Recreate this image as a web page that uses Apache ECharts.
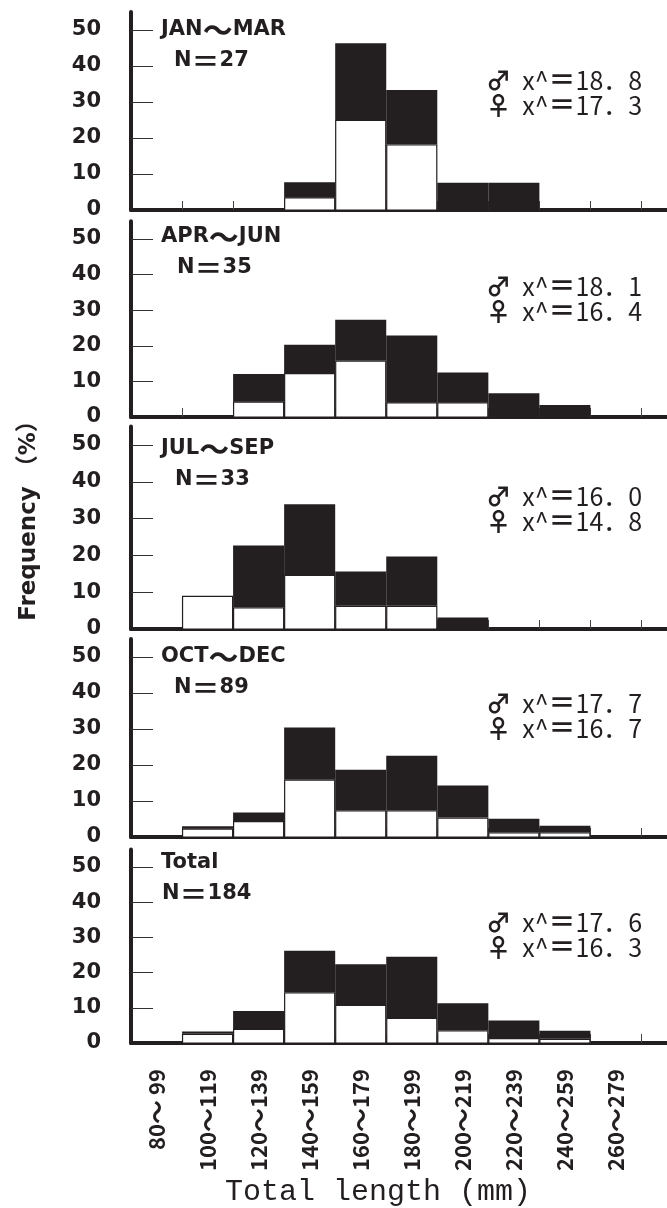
<!DOCTYPE html>
<html>
<head>
<meta charset="utf-8">
<script src="https://cdn.jsdelivr.net/npm/echarts@6/dist/echarts.min.js"></script>
<style>
  html, body { margin: 0; padding: 0; background: #fff; }
  #main { width: 667px; height: 1208px; }
</style>
</head>
<body>
<div id="main"></div>
<script>
// length classes (mm)
var binLabels = [['80', ' 99'], ['100', '119'], ['120', '139'], ['140', '159'], ['160', '179'],
  ['180', '199'], ['200', '219'], ['220', '239'], ['240', '259'], ['260', '279']]
var binLower = [80, 100, 120, 140, 160, 180, 200, 220, 240, 260]

var periods = [['JAN', 'MAR'], ['APR', 'JUN'], ['JUL', 'SEP'], ['OCT', 'DEC'], ['Total']]
var sampleN = [27, 35, 33, 89, 184]
var maleMean = ['18．8', '18．1', '16．0', '17．7', '17．6']
var femaleMean = ['17．3', '16．4', '14．8', '16．7', '16．3']

// frequency (%) : white = female (bottom), black = male (stacked on top)
var janMarFemale = [0, 0, 0, 3.5, 25, 18.2, 0, 0, 0, 0]
var janMarMale = [0, 0, 0, 4.2, 21.3, 15.1, 7.6, 7.6, 0, 0]
var aprJunFemale = [0, 0, 4.3, 12.3, 15.8, 4.1, 4.1, 0, 0, 0]
var aprJunMale = [0, 0, 7.8, 8.0, 11.5, 18.8, 8.4, 6.7, 3.4, 0]
var julSepFemale = [0, 9.0, 5.9, 14.7, 6.3, 6.3, 0, 0, 0, 0]
var julSepMale = [0, 0, 16.8, 19.2, 9.3, 13.4, 3.1, 0, 0, 0]
var octDecFemale = [0, 2.3, 4.4, 15.9, 7.4, 7.4, 5.4, 1.3, 1.3, 0]
var octDecMale = [0, 0.7, 2.4, 14.5, 11.3, 15.2, 8.9, 3.8, 1.8, 0]
var totalFemale = [0, 2.6, 4.0, 14.4, 10.8, 7.1, 3.6, 1.4, 1.2, 0]
var totalMale = [0, 0.7, 5.1, 11.8, 11.6, 17.4, 7.7, 5.0, 2.3, 0]

var yTicks = [0, 10, 20, 30, 40, 50]

var femaleSets = [janMarFemale, aprJunFemale, julSepFemale, octDecFemale, totalFemale]
var maleSets = [janMarMale, aprJunMale, julSepMale, octDecMale, totalMale]

var INK = '#231f20'
// panel layout: pixel row of the zero line and of the 50 % tick
var base = [210, 417, 629, 837, 1043]
var y50 = [30, 239, 445, 657, 867]
var noteOffset = [130, 131, 133, 134, 121]
var nLeft = [174, 177, 175, 174, 162]

var captionRich = {
  t: { fill: INK, font: 'bold 21px "DejaVu Sans"' },
  w: { fill: INK, font: 'bold 30px "Noto Sans CJK JP"' },
  e: { fill: INK, font: 'bold 28px "Noto Sans CJK JP"' }
}
var noteRich = {
  s: { fill: INK, font: 'bold 25px "Noto Sans CJK JP"' },
  t: { fill: INK, font: '25px "Noto Sans CJK JP"' },
  e: { fill: INK, font: 'bold 27px "Noto Sans CJK JP"' }
}

function renderBin (params, api) {
  var lo = api.value(0)
  var hi = api.value(1)
  var f = api.value(2)
  var m = api.value(3)
  var p0 = api.coord([lo, 0])
  var pf = api.coord([hi, f])
  var pt = api.coord([hi, f + m])
  var w = pf[0] - p0[0]
  var kids = []
  if (m > 0) {
    kids.push({ type: 'rect', shape: { x: p0[0], y: pt[1], width: w, height: pf[1] - pt[1] }, style: { fill: INK } })
  }
  if (f > 0) {
    kids.push({ type: 'rect', shape: { x: p0[0] + 0.5, y: pf[1] + 0.5, width: w - 1, height: p0[1] - pf[1] - 0.5 }, style: { fill: '#fff', stroke: INK, lineWidth: 1.2 } })
  }
  return { type: 'group', children: kids }
}

var grids = []
var xAxes = []
var yAxes = []
var series = []
var graphics = []

for (var i = 0; i < 5; i++) {
  var h = (base[i] - y50[i]) * 1.1
  grids.push({ left: 131, right: 0, top: base[i] - h, height: h })
  var last = i === 4
  xAxes.push({
    gridIndex: i,
    type: 'value',
    min: 80,
    max: 290,
    axisLine: { onZero: false, lineStyle: { color: INK, width: 4 } },
    axisTick: { inside: true, length: 9, customValues: binLower.slice(1).concat([280]), lineStyle: { color: '#444', width: 1 } },
    axisLabel: last ? {
      customValues: binLower.map(function (v) { return v + 10 }),
      formatter: function (v) {
        var b = binLabels[(v - 90) / 20]
        return '{d|' + b[0] + '}{w|〜}{d|' + b[1] + '}'
      },
      rotate: 90,
      margin: 26,
      rich: {
        d: { color: INK, fontFamily: '"Noto Sans CJK JP"', fontWeight: 'bold', fontSize: 22 },
        w: { color: INK, fontFamily: '"Noto Sans CJK JP"', fontWeight: 'bold', fontSize: 24 }
      }
    } : { show: false },
    splitLine: { show: false }
  })
  yAxes.push({
    gridIndex: i,
    type: 'value',
    min: 0,
    max: 55,
    axisLine: { show: true, onZero: false, lineStyle: { color: INK, width: 4 } },
    axisTick: { show: true, inside: true, length: 22, customValues: yTicks.slice(1), lineStyle: { color: '#333', width: 1 } },
    axisLabel: {
      customValues: yTicks,
      margin: 30,
      color: INK,
      fontFamily: '"DejaVu Sans"',
      fontWeight: 'bold',
      fontSize: 21
    },
    splitLine: { show: false }
  })
  var rows = []
  for (var j = 0; j < binLower.length; j++) {
    rows.push([binLower[j], binLower[j] + 20, femaleSets[i][j], maleSets[i][j]])
  }
  series.push({
    type: 'custom',
    xAxisIndex: i,
    yAxisIndex: i,
    renderItem: renderBin,
    encode: { x: [0, 1], y: [2, 3] },
    data: rows
  })

  // panel captions
  var cap = periods[i].length > 1
    ? '{t|' + periods[i][0] + '}{w|〜}{t|' + periods[i][1] + '}'
    : '{t|' + periods[i][0] + '}'
  graphics.push({
    type: 'text', x: 161, y: base[i] - 180,
    style: { text: cap, rich: captionRich, verticalAlign: 'middle' }
  })
  graphics.push({
    type: 'text', x: nLeft[i], y: base[i] - 149,
    style: { text: '{t|N}{e|＝}{t|' + sampleN[i] + '}', rich: captionRich, verticalAlign: 'middle' }
  })
  graphics.push({
    type: 'text', x: 486, y: base[i] - noteOffset[i],
    style: { text: '{s|♂}{t|  x^}{e|＝}{t|' + maleMean[i] + '}', rich: noteRich, verticalAlign: 'middle' }
  })
  graphics.push({
    type: 'text', x: 486, y: base[i] - noteOffset[i] + 25,
    style: { text: '{s|♀}{t|  x^}{e|＝}{t|' + femaleMean[i] + '}', rich: noteRich, verticalAlign: 'middle' }
  })
}

graphics.push({
  type: 'text', x: 29, y: 515, rotation: Math.PI / 2,
  style: { text: 'Frequency （%）', fill: INK, font: 'bold 23px "DejaVu Sans", "Noto Sans CJK JP"', align: 'center', verticalAlign: 'middle' }
})
graphics.push({
  type: 'text', x: 378, y: 1192,
  style: { text: 'Total length (mm)', fill: INK, font: '30px "Liberation Mono"', align: 'center', verticalAlign: 'middle' }
})

var myChart = echarts.init(document.getElementById('main'))
myChart.setOption({
  animation: false,
  backgroundColor: '#fff',
  grid: grids,
  xAxis: xAxes,
  yAxis: yAxes,
  series: series,
  graphic: graphics
})
</script>
</body>
</html>
